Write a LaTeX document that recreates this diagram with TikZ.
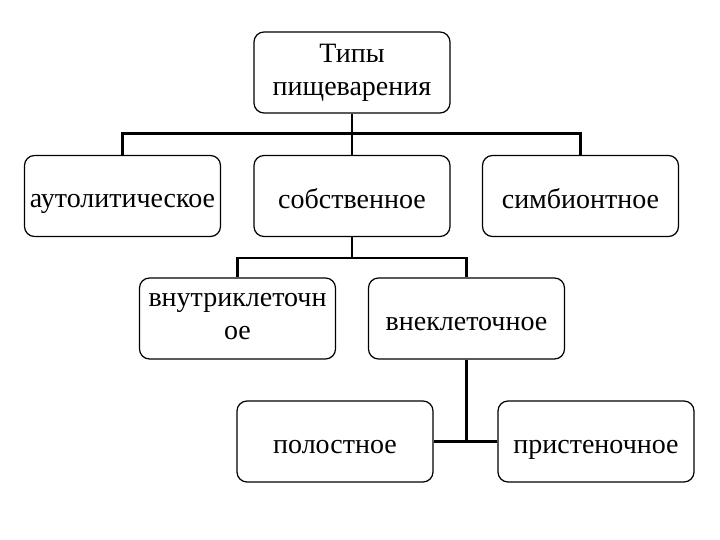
\documentclass[tikz,border=0pt]{standalone}
\usepackage{fontspec}
\setmainfont{Liberation Serif}
\usepackage{tikz}
\usetikzlibrary{positioning,calc}

\begin{document}
\begin{tikzpicture}[
    x=0.5pt, y=-0.5pt,
    box/.style={draw=black, line width=0.6pt, rounded corners=5pt, fill=white,
        minimum width=98pt, minimum height=40.5pt, inner sep=2pt, align=center,
        font=\rmfamily\fontsize{14}{16.5}\selectfont,
        execute at begin node=\rule{0pt}{14.5pt},
        execute at end node=\rule[-2pt]{0pt}{2pt}},
    wire/.style={line width=1.2pt, draw=black}
]
    \useasboundingbox (0,0) rectangle (720,540);

    % Root
    \node[box] (types) at (352, 72.5) {Типы\\пищеварения};

    % Second level
    \node[box] (auto) at (122.5, 196) {аутолитическое};
    \node[box] (own)  at (352, 196)   {собственное};
    \node[box] (symb) at (580.5, 196) {симбионтное};

    % Third level
    \node[box] (intra) at (237.5, 318.5) {внутриклеточн\\ое};
    \node[box] (extra) at (466.5, 318.5) {внеклеточное};

    % Fourth level
    \node[box] (cavity) at (335, 441.5) {полостное};
    \node[box] (wall)   at (596, 441.5) {пристеночное};

    % Wires: root to second level
    \coordinate (bus1) at ($(types.south)+(0,-10pt)$);
    \draw[wire] (types.south) -- (bus1) -| (auto.north);
    \draw[wire] (bus1) -| (symb.north);
    \draw[wire] (bus1) -- (own.north);

    % Wires: own to third level
    \coordinate (bus2) at ($(own.south)+(0,-10.5pt)$);
    \draw[wire] (own.south) -- (bus2) -| (intra.north);
    \draw[wire] (bus2) -| (extra.north);

    % Wires: extra to fourth level
    \draw[wire] (extra.south) |- (cavity.east);
    \draw[wire] (extra.south) |- (wall.west);

\end{tikzpicture}
\end{document}
